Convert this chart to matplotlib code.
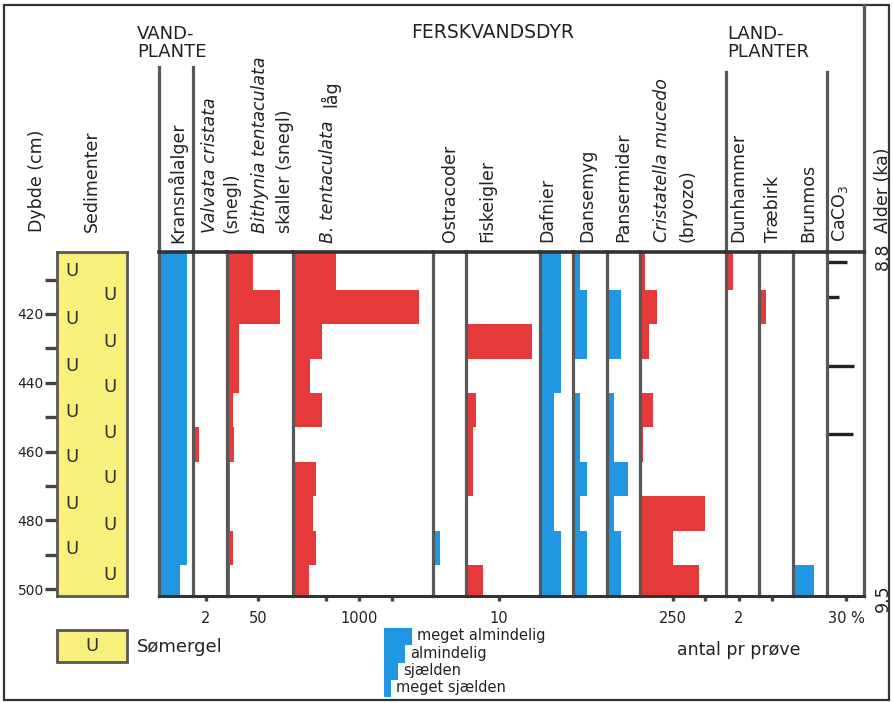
import numpy as np
import matplotlib
matplotlib.use("Agg")
import matplotlib.pyplot as plt
from matplotlib.patches import Rectangle
from matplotlib.lines import Line2D
from matplotlib.transforms import blended_transform_factory

plt.rcParams['font.family'] = ['DejaVu Sans']

W, H = 893, 703

# --- data -----------------------------------------------------------------
# sample intervals (depth in cm)
sample_edges = [402, 413, 423, 433, 443, 453, 463, 473, 483, 493, 502]

# abundance classes: 1 meget sjælden, 2 sjælden, 3 almindelig, 4 meget almindelig
kransnaalalger = [4, 4, 4, 4, 4, 4, 4, 4, 4, 3]
ostracoder = [0, 0, 0, 0, 0, 0, 0, 0, 1, 0]
dafnier = [3, 3, 3, 3, 2, 2, 2, 2, 3, 3]
dansemyg = [1, 2, 2, 0, 1, 1, 2, 1, 2, 2]
pansermider = [0, 2, 2, 0, 1, 1, 3, 1, 2, 2]
brunmos = [0, 0, 0, 0, 0, 0, 0, 0, 0, 3]

# counts per sample
valvata = [0, 0, 0, 0, 0, 1, 0, 0, 0, 0]
bithynia = [42, 85, 20, 20, 11, 12, 6, 6, 10, 6]
b_tent_laag = [650, 1900, 450, 260, 450, 0, 350, 310, 350, 250]
fiskeigler = [0, 0, 20, 0, 3, 2, 2, 0, 0, 5]
cristatella = [40, 130, 70, 0, 100, 25, 0, 500, 250, 450]
dunhammer = [1, 0, 0, 0, 0, 0, 0, 0, 0, 0]
traebirk = [0, 1, 0, 0, 0, 0, 0, 0, 0, 0]

# CaCO3 (%) at single depths
caco3_depth = [405, 415, 435, 455]
caco3_pct = [32, 19, 42, 41]

depth_major = [420, 440, 460, 480, 500]
depth_minor = [410, 430, 450, 470, 490]
age_labels = ["8.8", "9.5"]

legend_classes = [4, 3, 2, 1]
legend_names = ["meget almindelig", "almindelig", "sjælden", "meget sjælden"]

# "U" symbols of the lake marl column
marl_u_left = [407.6, 421.5, 435.2, 448.5, 461.6, 475.3, 488.4]
marl_u_right = [414.5, 428.1, 441.2, 454.7, 467.7, 481.4, 495.9]

# --- style ----------------------------------------------------------------
RED = "#E63A3A"
BLUE = "#1F97E2"
YELLOW = "#F8F07A"
LINE = "#575757"
DARK = "#333333"
TOP_PX, BOT_PX = 252, 596


def rect(x0, y0, x1, y1):
    return [x0 / W, 1 - y1 / H, (x1 - x0) / W, (y1 - y0) / H]


fig = plt.figure(figsize=(W / 100, H / 100), dpi=100)
fig.patch.set_facecolor("white")

# overlay in pixel units for frame, headings and labels
ov = fig.add_axes([0, 0, 1, 1], zorder=0)
ov.set_xlim(0, W)
ov.set_ylim(H, 0)
ov.axis("off")

# columns: (left px, right px, px per unit, values, colour, ticks, tick labels)
columns = [
    (158.5, 192.5, 7.0, kransnaalalger, BLUE, [], []),
    (192.5, 226.5, 6.75, valvata, RED, [2], ["2"]),
    (226.5, 292.5, 0.63, bithynia, RED, [50], ["50"]),
    (292.5, 432.5, 0.0665, b_tent_laag, RED, [500, 1000, 1500], ["", "1000", ""]),
    (432.5, 466.5, 7.0, ostracoder, BLUE, [], []),
    (466.5, 539.5, 3.25, fiskeigler, RED, [10], ["10"]),
    (539.5, 572.5, 7.0, dafnier, BLUE, [], []),
    (572.5, 606.5, 7.0, dansemyg, BLUE, [], []),
    (606.5, 640.0, 7.0, pansermider, BLUE, [], []),
    (640.0, 726.0, 0.13, cristatella, RED, [250, 500], ["250", ""]),
    (726.0, 759.0, 6.5, dunhammer, RED, [2], ["2"]),
    (759.0, 792.5, 6.5, traebirk, RED, [2], [""]),
    (792.5, 826.5, 7.0, brunmos, BLUE, [], []),
    (826.5, 863.5, 0.65, None, None, [30], ["30 %"]),
]

heights = np.diff(sample_edges)
for i, (l, r, ppu, vals, col, ticks, tlabels) in enumerate(columns):
    ax = fig.add_axes(rect(l, TOP_PX, r, BOT_PX), zorder=2)
    ax.set_xlim(0, (r - l) / ppu)
    ax.set_ylim(sample_edges[-1], sample_edges[0])
    ax.patch.set_alpha(0)
    if vals is not None:
        ax.barh(sample_edges[:-1], vals, height=heights, align="edge",
                color=col, linewidth=0, zorder=1)
    else:
        ax.hlines(caco3_depth, 0, caco3_pct, colors="#222222", linewidth=2.4,
                  zorder=1)
    for side in ("left", "right", "top", "bottom"):
        ax.spines[side].set_visible(False)
    ax.spines["left"].set_visible(True)
    ax.spines["left"].set_color(LINE)
    ax.spines["left"].set_linewidth(2.3)
    ax.spines["top"].set_visible(True)
    ax.spines["top"].set_color(DARK)
    ax.spines["top"].set_linewidth(2.6)
    ax.spines["bottom"].set_visible(True)
    ax.spines["bottom"].set_color(DARK)
    ax.spines["bottom"].set_linewidth(2.2)
    if i == len(columns) - 1:
        ax.spines["right"].set_visible(True)
        ax.spines["right"].set_color(LINE)
        ax.spines["right"].set_linewidth(2.3)
    ax.set_yticks([])
    ax.set_xticks(ticks)
    ax.set_xticklabels(tlabels)
    ax.tick_params(axis="x", direction="out", length=3.5, width=2.4,
                   color="#444444", labelsize=10.5, pad=7, labelcolor="#222222")

# sediment column with depth axis
sed = fig.add_axes(rect(57, TOP_PX, 127, BOT_PX), zorder=2)
sed.set_facecolor(YELLOW)
sed.set_xlim(0, 1)
sed.set_ylim(sample_edges[-1], sample_edges[0])
sed.set_xticks([])
sed.set_yticks(depth_major)
sed.set_yticklabels([str(d) for d in depth_major])
sed.set_yticks(depth_minor, minor=True)
sed.tick_params(axis="y", which="both", direction="out", length=8.5, width=2.4,
                color="#444444", labelsize=10, pad=1, labelcolor="#222222")
for s in sed.spines.values():
    s.set_color(LINE)
    s.set_linewidth(2)
tr = blended_transform_factory(sed.transAxes, sed.transData)
for d in marl_u_left:
    sed.text(0.22, d, "U", transform=tr, ha="center", va="center",
             fontsize=13, color="#333333")
for d in marl_u_right:
    sed.text(0.76, d, "U", transform=tr, ha="center", va="center",
             fontsize=13, color="#333333")

# group separators rising above the column headings
for x, y0 in [(158.5, 67), (192.5, 67), (726.0, 72), (826.5, 72)]:
    ov.add_line(Line2D([x, x], [y0, TOP_PX], color=LINE, linewidth=2.3))
ov.add_line(Line2D([863.5, 863.5], [5, TOP_PX], color=LINE, linewidth=2.3))

# outer frame
ov.add_patch(Rectangle((4, 5), 885, 695, fill=False, edgecolor=DARK,
                       linewidth=1.6))

# group headings
ov.text(137, 25, "VAND-\nPLANTE", ha="left", va="top", fontsize=13,
        linespacing=1.0, color="#222222")
ov.text(493, 32, "FERSKVANDSDYR", ha="center", va="center", fontsize=13.5,
        color="#222222")
ov.text(727, 25, "LAND-\nPLANTER", ha="left", va="top", fontsize=13,
        linespacing=1.0, color="#222222")

# rotated column labels: (x centre, bottom y, text, italic)
col_labels = [
    (37, 232, "Dybde (cm)", False),
    (92, 232, "Sedimenter", False),
    (177, 243, "Kransnålalger", False),
    (210, 233, "Valvata cristata", True),
    (231, 233, "(snegl)", False),
    (260, 233, "Bithynia tentaculata", True),
    (285, 233, "skaller (snegl)", False),
    (328, 243, "B. tentaculata", True),
    (330, 107, "låg", False),
    (450, 242, "Ostracoder", False),
    (487, 242, "Fiskeigler", False),
    (547, 242, "Dafnier", False),
    (587, 242, "Dansemyg", False),
    (623, 242, "Pansermider", False),
    (662, 242, "Cristatella mucedo", True),
    (687, 242, "(bryozo)", False),
    (738, 242, "Dunhammer", False),
    (773, 242, "Træbirk", False),
    (808, 242, "Brunmos", False),
    (840, 242, "CaCO$_3$", False),
    (883, 233, "Alder (ka)", False),
]
for x, y, txt, it in col_labels:
    ov.text(x, y, txt, rotation=90, ha="center", va="bottom", fontsize=12.5,
            style="italic" if it else "normal", color="#222222")

# age ends of the section
ov.text(883, 256, age_labels[0], rotation=90, ha="center", va="center",
        fontsize=12.5, color="#222222")
ov.text(883, 598, age_labels[1], rotation=90, ha="center", va="center",
        fontsize=12.5, color="#222222")

# lake marl legend
ov.add_patch(Rectangle((57, 630), 70, 32, facecolor=YELLOW, edgecolor=LINE,
                       linewidth=2))
ov.text(92, 646, "U", ha="center", va="center", fontsize=13, color="#333333")
ov.text(137, 647, "Sømergel", ha="left", va="center", fontsize=13,
        color="#222222")
ov.text(677, 650, "antal pr prøve", ha="left", va="center", fontsize=12.5,
        color="#222222")

# abundance class legend as a step bar
lg = fig.add_axes(rect(384, 628, 440, 697), zorder=2)
lg.set_xlim(0, 56 / 7.0)
lg.set_ylim(len(legend_classes), 0)
lg.barh(np.arange(len(legend_classes)), legend_classes, height=1.0,
        align="edge", color=BLUE, linewidth=0)
for i, (c, name) in enumerate(zip(legend_classes, legend_names)):
    lg.text(c + 0.7, i + 0.45, name, ha="left", va="center", fontsize=10.5,
            color="#222222")
lg.axis("off")

fig.savefig("out.png", dpi=100, facecolor="white")
